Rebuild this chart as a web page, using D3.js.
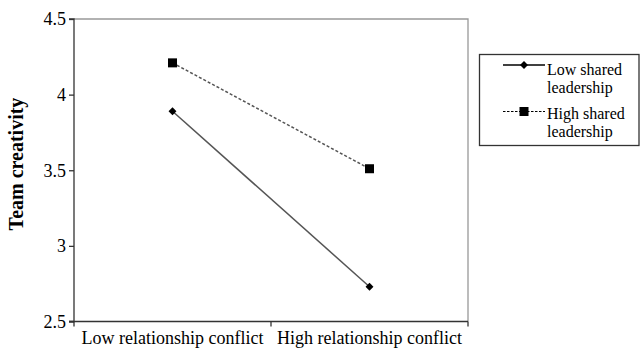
<!DOCTYPE html>
<html><head><meta charset="utf-8">
<script src="https://cdn.jsdelivr.net/npm/d3@7"></script>
<style>body{margin:0;background:#fff}svg{display:block}</style>
</head><body><svg id="c" width="641" height="350"></svg>
<script>
const categories = ["Low relationship conflict", "High relationship conflict"];
const seriesNames = ["Low shared leadership", "High shared leadership"];
const lowShared = [3.89, 2.73];
const highShared = [4.21, 3.51];
const yTicks = [2.5, 3, 3.5, 4, 4.5];
const legendLines = [["Low shared", "leadership"], ["High shared", "leadership"]];

const FONT = "'Liberation Serif', Tinos, 'Times New Roman', 'DejaVu Serif', serif";
const svg = d3.select("#c").style("font-family", FONT);
const L = 74, R = 468, T = 19, B = 321.5;
const x = d3.scaleBand().domain(categories).range([L, R]);
const y = d3.scaleLinear().domain([2.5, 4.5]).range([B, T]);

svg.append("path").attr("d", `M${L},${T}H${R}V${B}`).attr("fill","none").attr("stroke","#999").attr("stroke-width",1.3);

const ya = svg.append("g").attr("transform", `translate(${L},0)`)
  .call(d3.axisLeft(y).tickValues(yTicks).tickSize(5).tickFormat(d => d3.format("")(d)));
ya.attr("font-family", null);
ya.select(".domain").attr("stroke","#333").attr("stroke-width",1.3).attr("d", `M-5,${T}H0V${B}H-5`);
ya.selectAll(".tick line").attr("stroke","#333").attr("stroke-width",1.3);
ya.selectAll(".tick text").attr("x",-8).style("font-family",FONT).style("font-size","18px").attr("fill","#000");

const xa = svg.append("g").attr("transform", `translate(0,${B})`)
  .call(d3.axisBottom(x).tickSize(0));
xa.attr("font-family", null);
xa.select(".domain").attr("stroke","#333").attr("stroke-width",1.3).attr("d", `M${L-5},0H${R}`);
xa.selectAll(".tick text").attr("y",10).style("font-family",FONT).style("font-size","18px").attr("fill","#000");
const edges = [L, x(categories[1]), R];
xa.selectAll(".edge").data(edges).join("line").attr("x1",d=>d).attr("x2",d=>d).attr("y1",0).attr("y2",5).attr("stroke","#333").attr("stroke-width",1.3);

svg.append("text").attr("transform","translate(23,164) rotate(-90)").attr("text-anchor","middle")
  .style("font-family",FONT).style("font-weight","bold").style("font-size","20px").text("Team creativity");

const cx = d => x(d) + x.bandwidth()/2;
const line = d3.line().x(d => cx(d.c)).y(d => y(d.v));
const data1 = categories.map((c,i)=>({c, v: lowShared[i]}));
const data2 = categories.map((c,i)=>({c, v: highShared[i]}));

svg.append("path").datum(data2).attr("d", line).attr("fill","none").attr("stroke","#555").attr("stroke-width",1.5).attr("stroke-dasharray","3,2");
svg.append("path").datum(data1).attr("d", line).attr("fill","none").attr("stroke","#555").attr("stroke-width",1.5);

const diamond = d3.symbol().type(d3.symbolDiamond2).size(40);
svg.selectAll(".m1").data(data1).join("path").attr("transform", d=>`translate(${cx(d.c)},${y(d.v)})`).attr("d", diamond()).attr("fill","#000");
svg.selectAll(".m2").data(data2).join("rect").attr("x", d=>cx(d.c)-4.5).attr("y", d=>y(d.v)-4.5).attr("width",9).attr("height",9).attr("fill","#000");

const lg = svg.append("g");
lg.append("rect").attr("x",479.5).attr("y",54.5).attr("width",159.5).attr("height",91).attr("fill","#fff").attr("stroke","#333").attr("stroke-width",1.3);
const rows = [65, 111.5];
lg.append("line").attr("x1",503).attr("x2",545).attr("y1",rows[0]).attr("y2",rows[0]).attr("stroke","#000").attr("stroke-width",1.3);
lg.append("path").attr("transform",`translate(524,${rows[0]})`).attr("d",diamond()).attr("fill","#000");
lg.append("line").attr("x1",503).attr("x2",545).attr("y1",rows[1]).attr("y2",rows[1]).attr("stroke","#000").attr("stroke-width",1.1).attr("stroke-dasharray","2.5,1.5");
lg.append("rect").attr("x",519.5).attr("y",rows[1]-4.5).attr("width",9).attr("height",9).attr("fill","#000");
legendLines.forEach((ls,i)=>{
  ls.forEach((t,j)=>{
    lg.append("text").attr("x",547).attr("y",[75,119][i] + j*18).style("font-family",FONT).style("font-size","16px").text(t);
  });
});
</script></body></html>
